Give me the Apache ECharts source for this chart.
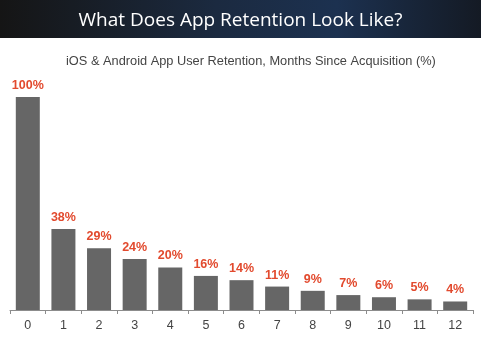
<!DOCTYPE html>
<html>
<head>
<meta charset="utf-8">
<script src="https://cdn.jsdelivr.net/npm/echarts@6/dist/echarts.min.js"></script>
<style>
  html, body { margin: 0; padding: 0; background: #ffffff; }
  #chart { width: 481px; height: 338px; }
</style>
</head>
<body>
<div id="chart"></div>
<script>
// Months since acquisition and share of users retained
const months = ['0', '1', '2', '3', '4', '5', '6', '7', '8', '9', '10', '11', '12'];
const retention = [100, 38, 29, 24, 20, 16, 14, 11, 9, 7, 6, 5, 4];

const headline = 'What Does App Retention Look Like?';
const subtitle = 'iOS & Android App User Retention, Months Since Acquisition (%)';

const chart = echarts.init(document.getElementById('chart'), null, { renderer: 'canvas' });

chart.setOption({
  animation: false,
  backgroundColor: '#ffffff',
  graphic: [
    {
      type: 'rect',
      left: 0, top: 0,
      shape: { width: 481, height: 38 },
      style: {
        fill: new echarts.graphic.LinearGradient(0, 0, 1, 0, [
          { offset: 0, color: '#151515' },
          { offset: 0.45, color: '#1b2a40' },
          { offset: 0.7, color: '#1c3150' },
          { offset: 1, color: '#141a24' }
        ])
      },
      z: 0
    }
  ],
  title: [
    {
      text: headline,
      left: 'center',
      top: 6,
      textStyle: {
        color: '#ffffff',
        fontFamily: 'Open Sans',
        fontWeight: 'normal',
        fontSize: 19
      },
      z: 5
    },
    {
      text: subtitle,
      left: 61,
      top: 50,
      textStyle: {
        color: '#444444',
        fontFamily: 'Liberation Sans',
        fontWeight: 'normal',
        fontSize: 12.8
      }
    }
  ],
  grid: { left: 10, right: 8, top: 97, bottom: 28 },
  xAxis: {
    type: 'category',
    data: months,
    boundaryGap: true,
    axisLine: { lineStyle: { color: '#8c8c8c', width: 1 } },
    axisTick: { show: true, length: 4, lineStyle: { color: '#8c8c8c' } },
    axisLabel: {
      color: '#444444',
      fontFamily: 'Liberation Sans',
      fontSize: 12.5,
      margin: 9
    }
  },
  yAxis: {
    type: 'value',
    min: 0,
    max: 100,
    show: false,
    splitLine: { show: false }
  },
  series: [
    {
      type: 'bar',
      data: retention,
      barWidth: 24,
      itemStyle: { color: '#666666' },
      label: {
        show: true,
        position: 'top',
        distance: 5,
        formatter: p => p.value + '%',
        color: '#e24a2e',
        fontFamily: 'Liberation Sans',
        fontWeight: 'bold',
        fontSize: 12.5
      }
    }
  ]
});
</script>
</body>
</html>
